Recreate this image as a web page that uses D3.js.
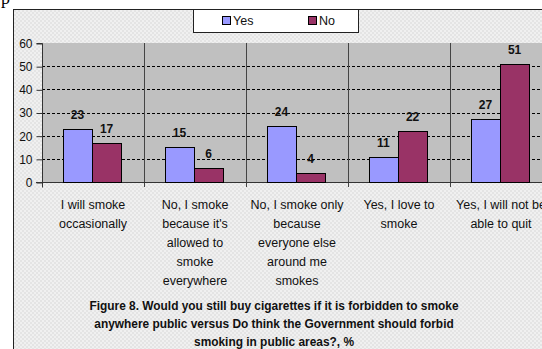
<!DOCTYPE html>
<html>
<head>
<meta charset="utf-8">
<script src="https://cdn.jsdelivr.net/npm/d3@7"></script>
<style>
  body { margin: 0; background: #fff; }
  svg { display: block; font-family: Arial, "Liberation Sans", sans-serif; }
</style>
</head>
<body>
<div id="chart"></div>
<script>
var svgWidth = 542;
var svgHeight = 349;

// chart data
var categories = [
  ["I will smoke", "occasionally"],
  ["No, I smoke", "because it's", "allowed to", "smoke", "everywhere"],
  ["No, I smoke only", "because", "everyone else", "around me", "smokes"],
  ["Yes, I love to", "smoke"],
  ["Yes, I will not be", "able to quit"]
];
var seriesNames = ["Yes", "No"];
var yesValues = [23, 15, 24, 11, 27];
var noValues = [17, 6, 4, 22, 51];
var yTicks = [0, 10, 20, 30, 40, 50, 60];
var titleLines = [
  "Figure 8. Would you still buy cigarettes if it is forbidden to smoke",
  "anywhere public versus Do think the Government should forbid",
  "smoking in public areas?, %"
];
var colors = ["#9999ff", "#993366"];

var plot = { left: 42, top: 43, bottom: 182, catWidth: 102 };

var svg = d3.select("#chart")
  .append("svg")
  .attr("width", svgWidth)
  .attr("height", svgHeight);

// dithered grey background pattern
var defs = svg.append("defs");
var pat = defs.append("pattern")
  .attr("id", "dither")
  .attr("width", 4)
  .attr("height", 4)
  .attr("patternUnits", "userSpaceOnUse");
pat.append("rect").attr("width", 4).attr("height", 4).attr("fill", "#f0f0f0");
pat.append("rect").attr("x", 0).attr("y", 0).attr("width", 2).attr("height", 2).attr("fill", "#e4e4e4");
pat.append("rect").attr("x", 2).attr("y", 2).attr("width", 2).attr("height", 2).attr("fill", "#e4e4e4");

// stray character from the page text above
svg.append("text")
  .attr("x", 1)
  .attr("y", 4)
  .style("font-family", "'Liberation Serif', 'DejaVu Serif', serif")
  .style("font-size", "18px")
  .attr("fill", "#000")
  .text("p");

// outer chart box
svg.append("rect")
  .attr("x", 13.5)
  .attr("y", 9.5)
  .attr("width", 560)
  .attr("height", 360)
  .attr("fill", "url(#dither)")
  .attr("stroke", "#222")
  .attr("stroke-width", 1);

var xScale = d3.scaleBand()
  .domain(d3.range(categories.length))
  .range([plot.left, plot.left + plot.catWidth * categories.length])
  .paddingInner(0)
  .paddingOuter(0);

var yScale = d3.scaleLinear()
  .domain([0, 60])
  .range([plot.bottom, plot.top]);

var xSub = d3.scaleBand()
  .domain(seriesNames)
  .range([-1, xScale.bandwidth() - 1])
  .paddingInner(0)
  .paddingOuter(0.75);

// plot area
svg.append("rect")
  .attr("x", plot.left)
  .attr("y", plot.top)
  .attr("width", xScale.range()[1] - plot.left)
  .attr("height", plot.bottom - plot.top)
  .attr("fill", "#c0c0c0");

// dashed gridlines
svg.append("g")
  .selectAll("line")
  .data(yTicks.filter(d => d > 0 && d < 60))
  .enter()
  .append("line")
  .attr("x1", plot.left)
  .attr("x2", xScale.range()[1])
  .attr("y1", d => Math.round(yScale(d)) + 0.5)
  .attr("y2", d => Math.round(yScale(d)) + 0.5)
  .attr("stroke", "#000")
  .attr("stroke-dasharray", "3,2");

// category separators
svg.append("g")
  .selectAll("line")
  .data(d3.range(1, categories.length + 1))
  .enter()
  .append("line")
  .attr("x1", d => plot.left + d * plot.catWidth + 0.5)
  .attr("x2", d => plot.left + d * plot.catWidth + 0.5)
  .attr("y1", plot.top)
  .attr("y2", plot.bottom + 5)
  .attr("stroke", "#444");

// y axis
var leftAxis = d3.axisLeft(yScale)
  .tickValues(yTicks)
  .tickSize(6)
  .tickPadding(4);
var yAxis = svg.append("g")
  .attr("transform", `translate(${plot.left + 0.5}, 0.5)`)
  .call(leftAxis);
yAxis.select(".domain").attr("stroke", "#333").attr("d", `M-6,${plot.top}H0V${plot.bottom + 5}`);
yAxis.selectAll(".tick line").attr("stroke", "#333");
yAxis.selectAll(".tick text")
  .attr("fill", "#111")
  .style("font-size", "12px");

// x axis line at zero
svg.append("line")
  .attr("x1", plot.left - 6)
  .attr("x2", xScale.range()[1])
  .attr("y1", plot.bottom + 0.5)
  .attr("y2", plot.bottom + 0.5)
  .attr("stroke", "#333");

// bars
var groups = svg.append("g")
  .selectAll("g")
  .data(categories.map((c, i) => i))
  .enter()
  .append("g")
  .attr("transform", d => `translate(${xScale(d)}, 0)`);

groups.selectAll("rect")
  .data(i => [
    { key: "Yes", value: yesValues[i], color: colors[0] },
    { key: "No", value: noValues[i], color: colors[1] }
  ])
  .enter()
  .append("rect")
  .attr("x", d => Math.round(xSub(d.key)) + 0.5)
  .attr("y", d => Math.round(yScale(d.value)) + 0.5)
  .attr("width", Math.round(xSub.bandwidth()))
  .attr("height", d => Math.round(plot.bottom - yScale(d.value)))
  .attr("fill", d => d.color)
  .attr("stroke", "#000")
  .attr("stroke-width", 1);

groups.selectAll("text.val")
  .data(i => [
    { key: "Yes", value: yesValues[i] },
    { key: "No", value: noValues[i] }
  ])
  .enter()
  .append("text")
  .attr("class", "val")
  .attr("x", d => xSub(d.key) + xSub.bandwidth() / 2)
  .attr("y", d => yScale(d.value) - 10)
  .attr("text-anchor", "middle")
  .style("font-size", "12px")
  .style("font-weight", "bold")
  .attr("fill", "#111")
  .text(d => d.value);

// category labels
var catLabels = svg.append("g")
  .selectAll("text")
  .data(categories)
  .enter()
  .append("text")
  .attr("x", (d, i) => xScale(i) + xScale.bandwidth() / 2)
  .attr("y", 209)
  .attr("text-anchor", "middle")
  .style("font-size", "12.5px")
  .attr("fill", "#111");

catLabels.selectAll("tspan")
  .data(d => d)
  .enter()
  .append("tspan")
  .attr("x", function() { return d3.select(this.parentNode).attr("x"); })
  .attr("dy", (d, i) => i === 0 ? 0 : 19)
  .text(d => d);

// title
svg.append("g")
  .selectAll("text")
  .data(titleLines)
  .enter()
  .append("text")
  .attr("x", 274)
  .attr("y", (d, i) => 310 + i * 18)
  .attr("text-anchor", "middle")
  .style("font-size", "11.9px")
  .style("font-weight", "bold")
  .attr("fill", "#111")
  .text(d => d);

// legend
var legend = svg.append("g");
legend.append("rect")
  .attr("x", 193.5)
  .attr("y", 9.5)
  .attr("width", 165)
  .attr("height", 23)
  .attr("fill", "#fff")
  .attr("stroke", "#222");

var legendItems = legend.selectAll("g")
  .data(seriesNames)
  .enter()
  .append("g")
  .attr("transform", (d, i) => `translate(${222 + i * 86}, 0)`);

legendItems.append("rect")
  .attr("x", 0.5)
  .attr("y", 16.5)
  .attr("width", 8)
  .attr("height", 8)
  .attr("fill", (d, i) => colors[i])
  .attr("stroke", "#000");

legendItems.append("text")
  .attr("x", 11)
  .attr("y", 25)
  .style("font-size", "12.5px")
  .attr("fill", "#111")
  .text(d => d);
</script>
</body>
</html>
